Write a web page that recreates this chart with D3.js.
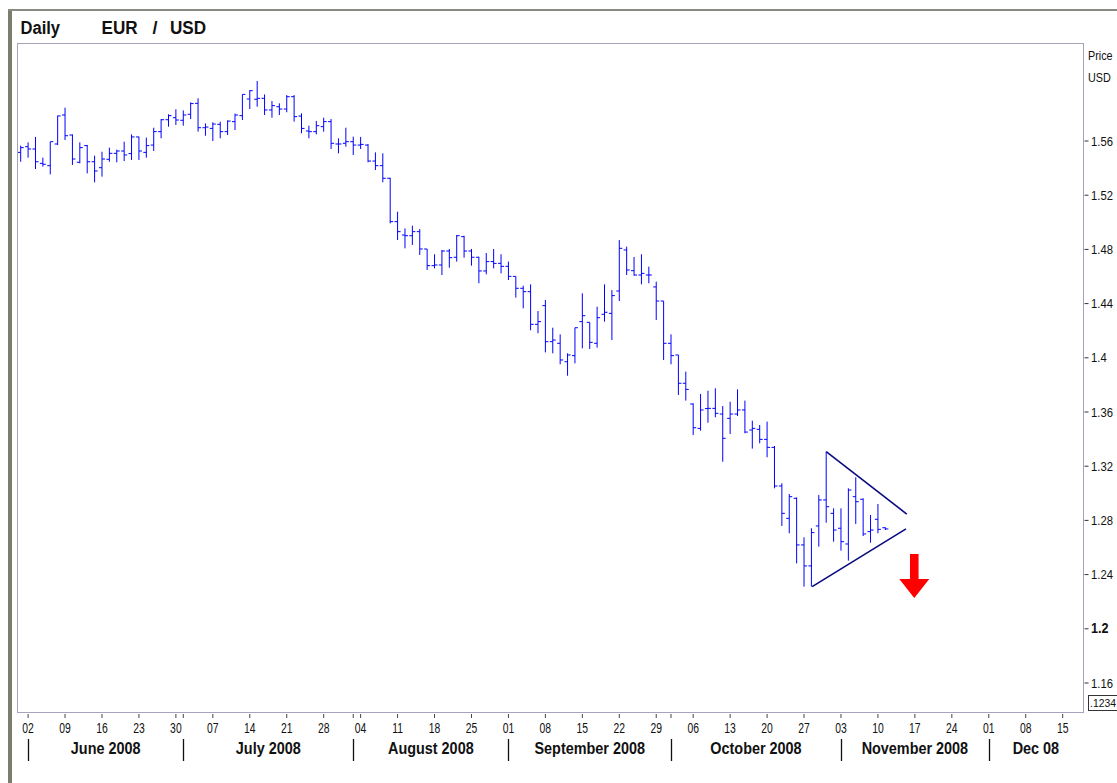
<!DOCTYPE html>
<html><head><meta charset="utf-8">
<script src="https://cdn.jsdelivr.net/npm/d3@7"></script>
<style>
body{margin:0;background:#fff}
svg{display:block;font-family:"Liberation Sans",Arial,sans-serif}
</style>
</head><body>
<svg id="c" width="1117" height="783"></svg>
<script>
// ---------------- DATA ----------------
const startDate = "2008-05-30"; // first bar (Friday), then every weekday
const opens = [
1.5516,1.5558,1.5541,1.5435,1.5418,1.5578,1.5792,1.5644,1.5443,1.5566,
1.5447,1.5403,1.5465,1.5509,1.5526,1.5507,1.5630,1.5516,1.5570,1.5669,
1.5757,1.5772,1.5753,1.5797,1.5878,1.5698,1.5693,1.5723,1.5669,1.5743,
1.5787,1.5910,1.5908,1.5915,1.5829,1.5853,1.5836,1.5927,1.5784,1.5674,
1.5669,1.5706,1.5743,1.5578,1.5583,1.5595,1.5570,1.5570,1.5452,1.5418,
1.5325,1.5005,1.4906,1.4901,1.4931,1.4803,1.4680,1.4685,1.4788,1.4742,
1.4894,1.4788,1.4742,1.4641,1.4710,1.4697,1.4675,1.4601,1.4513,1.4488,
1.4247,1.4385,1.4119,1.4107,1.3971,1.4016,1.4267,1.4262,1.4107,1.4321,
1.4328,1.4493,1.4796,1.4643,1.4611,1.4611,1.4523,1.4419,1.4107,1.4021,
1.3812,1.3659,1.3479,1.3625,1.3627,1.3585,1.3553,1.3585,1.3615,1.3467,
1.3472,1.3398,1.3339,1.3054,1.2815,1.2963,1.2619,1.2464,1.2759,1.2951,
1.2852,1.2742,1.2626,1.2975,1.2956,1.2717,1.2808,1.2746];
const highs = [
1.5566,1.5590,1.5630,1.5477,1.5595,1.5787,1.5846,1.5649,1.5590,1.5571,
1.5492,1.5521,1.5551,1.5536,1.5595,1.5649,1.5632,1.5625,1.5698,1.5762,
1.5797,1.5834,1.5826,1.5885,1.5915,1.5730,1.5738,1.5743,1.5752,1.5802,
1.5944,1.5976,1.6043,1.5944,1.5895,1.5878,1.5939,1.5939,1.5804,1.5713,
1.5748,1.5772,1.5762,1.5620,1.5698,1.5632,1.5630,1.5578,1.5516,1.5509,
1.5329,1.5078,1.4955,1.4975,1.4950,1.4803,1.4764,1.4796,1.4803,1.4906,
1.4901,1.4803,1.4746,1.4773,1.4803,1.4764,1.4710,1.4601,1.4532,1.4542,
1.4345,1.4427,1.4222,1.4173,1.4033,1.4222,1.4476,1.4262,1.4377,1.4542,
1.4500,1.4869,1.4820,1.4744,1.4764,1.4673,1.4562,1.4419,1.4173,1.4021,
1.3898,1.3664,1.3733,1.3757,1.3775,1.3644,1.3676,1.3767,1.3684,1.3536,
1.3504,1.3529,1.3349,1.3074,1.2995,1.2970,1.2675,1.2742,1.2988,1.3307,
1.2889,1.2889,1.3037,1.3118,1.2963,1.2840,1.2921,1.2749];
const lows = [
1.5447,1.5477,1.5393,1.5411,1.5354,1.5570,1.5607,1.5423,1.5435,1.5361,
1.5295,1.5337,1.5447,1.5443,1.5452,1.5460,1.5460,1.5477,1.5526,1.5620,
1.5706,1.5718,1.5713,1.5762,1.5669,1.5639,1.5600,1.5620,1.5644,1.5681,
1.5755,1.5836,1.5853,1.5792,1.5772,1.5792,1.5812,1.5743,1.5657,1.5620,
1.5649,1.5669,1.5541,1.5509,1.5558,1.5497,1.5541,1.5443,1.5386,1.5295,
1.4992,1.4869,1.4808,1.4833,1.4759,1.4648,1.4660,1.4611,1.4665,1.4710,
1.4739,1.4680,1.4550,1.4616,1.4660,1.4623,1.4574,1.4444,1.4365,1.4203,
1.4181,1.4040,1.4033,1.3952,1.3868,1.3959,1.4070,1.4065,1.4075,1.4267,
1.4131,1.4419,1.4611,1.4606,1.4542,1.4550,1.4279,1.3984,1.3952,1.3726,
1.3684,1.3430,1.3462,1.3521,1.3561,1.3233,1.3438,1.3570,1.3443,1.3330,
1.3369,1.3266,1.3037,1.2759,1.2705,1.2483,1.2311,1.2311,1.2606,1.2783,
1.2643,1.2577,1.2503,1.2774,1.2685,1.2636,1.2705,1.2729];
const closes = [
1.5551,1.5541,1.5447,1.5428,1.5595,1.5785,1.5639,1.5467,1.5551,1.5447,
1.5379,1.5467,1.5509,1.5526,1.5497,1.5630,1.5526,1.5566,1.5669,1.5757,
1.5787,1.5755,1.5792,1.5876,1.5698,1.5703,1.5725,1.5669,1.5747,1.5792,
1.5944,1.5971,1.5915,1.5829,1.5861,1.5836,1.5927,1.5780,1.5693,1.5669,
1.5713,1.5743,1.5583,1.5578,1.5595,1.5570,1.5575,1.5452,1.5418,1.5325,
1.5005,1.4931,1.4901,1.4931,1.4803,1.4680,1.4685,1.4788,1.4739,1.4901,
1.4788,1.4742,1.4641,1.4710,1.4697,1.4675,1.4601,1.4513,1.4488,1.4247,
1.4267,1.4119,1.4131,1.3984,1.4021,1.4222,1.4311,1.4114,1.4296,1.4336,
1.4459,1.4808,1.4648,1.4611,1.4623,1.4611,1.4419,1.4107,1.4016,1.3812,
1.3767,1.3484,1.3615,1.3627,1.3590,1.3406,1.3585,1.3615,1.3452,1.3479,
1.3398,1.3339,1.3054,1.2852,1.2975,1.2619,1.2464,1.2710,1.2951,1.2901,
1.2729,1.2643,1.3024,1.2938,1.2700,1.2729,1.2734,1.2737];
const priceTicks = [1.16,1.2,1.24,1.28,1.32,1.36,1.4,1.44,1.48,1.52,1.56];
const boldTick = 1.2;
const monthLabels = ["June 2008","July 2008","August 2008","September 2008","October 2008","November 2008","Dec 08"];
const titleParts = ["Daily","EUR","/","USD"];
const axisTitle = ["Price","USD"];
const lastPriceLabel = ".1234";
// triangle pattern (trading-day index, price)
const triUpper = [[109,1.3307],[119.9,1.2847]];
const triLower = [[107.1,1.2311],[119.8,1.2737]];
// breakdown arrow (index, prices)
const arrowDef = {i:120.92, top:1.2552, neck:1.2368, tip:1.2227, shaft:0.58, head:2.03};

// ---------------- LAYOUT ----------------
const W = 1117, H = 783;
const P = {l:18, t:44, r:1083, b:712};
const nAxisDays = 144;

function tradingDays(start, n){
  const out=[]; const d=new Date(start+"T00:00:00Z");
  while(out.length<n){ const wd=d.getUTCDay(); if(wd!==0&&wd!==6) out.push(new Date(d)); d.setUTCDate(d.getUTCDate()+1); }
  return out;
}
const days = tradingDays(startDate, nAxisDays);

const svg = d3.select("#c");
const x = d3.scaleLinear().domain([-0.365, 143.75]).range([P.l, P.r]);
const y = d3.scaleLinear().domain([1.1386, 1.63159]).range([P.b, P.t]);

function condense(sel, f){
  sel.each(function(){ const w=this.getComputedTextLength();
    d3.select(this).attr("textLength", (w*f).toFixed(2)).attr("lengthAdjust","spacingAndGlyphs"); });
}

svg.append("rect").attr("width",W).attr("height",H).attr("fill","#fff");

// outer frame
svg.append("rect").attr("x",8).attr("y",9).attr("width",4).attr("height",H-9).attr("fill","#7d7d6d");
svg.append("rect").attr("x",8).attr("y",9).attr("width",W-8).attr("height",2).attr("fill","#8a8a80");

// title
const titleX = [20.5, 101.5, 152.5, 170];
const titleF = [0.92, 0.95, 1, 0.95];
titleParts.forEach((t,k)=>{
  svg.append("text").attr("x",titleX[k]).attr("y",34).attr("font-size",18).attr("font-weight","bold")
    .attr("fill","#111").text(t).call(condense, titleF[k]);
});

// plot border
svg.append("rect").attr("x",P.l-0.5).attr("y",P.t-0.5).attr("width",P.r-P.l+1).attr("height",P.b-P.t+1)
  .attr("fill","none").attr("stroke","#a4a4bc").attr("stroke-width",1);

// y axis (right)
const yAxisG = svg.append("g");
yAxisG.selectAll("line").data(priceTicks).join("line")
  .attr("x1",P.r+1.5).attr("x2",P.r+5.5).attr("y1",d=>y(d)).attr("y2",d=>y(d))
  .attr("stroke","#333").attr("stroke-width",1);
yAxisG.selectAll("text").data(priceTicks).join("text")
  .attr("x",P.r+8).attr("y",d=>y(d)+4.5)
  .attr("font-size",d=>d===boldTick?14:12.5).attr("font-weight",d=>d===boldTick?"bold":"normal")
  .attr("fill","#111").text(d=>String(+d.toFixed(2)))
  .call(condense,0.9);
axisTitle.forEach((t,k)=>{
  svg.append("text").attr("x",P.r+5).attr("y",60+k*22).attr("font-size",12).attr("fill","#111").text(t).call(condense,0.9);
});
svg.append("rect").attr("x",P.r+5.5).attr("y",695.5).attr("width",40).attr("height",15)
  .attr("fill","#fff").attr("stroke","#333");
svg.append("text").attr("x",P.r+7).attr("y",707).attr("font-size",11).attr("fill","#111").text(lastPriceLabel)
  .attr("textLength",26).attr("lengthAdjust","spacingAndGlyphs");

// x axis
const dayIdx = d3.range(nAxisDays);
const mondays = dayIdx.filter(i=>days[i].getUTCDay()===1);
const monthStarts = dayIdx.filter(i=>i>0 && days[i].getUTCMonth()!==days[i-1].getUTCMonth());
const tickIdx = Array.from(new Set([...mondays, ...monthStarts])).sort((a,b)=>a-b);
svg.append("g").selectAll("line").data(tickIdx).join("line")
  .attr("x1",d=>x(d)).attr("x2",d=>x(d)).attr("y1",P.b+2).attr("y2",P.b+6)
  .attr("stroke","#444").attr("stroke-width",1);
svg.append("g").selectAll("text").data(mondays).join("text")
  .attr("x",d=>x(d)).attr("y",733).attr("text-anchor","middle").attr("font-size",14).attr("fill","#111")
  .text(d=>d3.utcFormat("%d")(days[d])).call(condense,0.74);

// month separators and labels
const seps = monthStarts.slice(0, monthLabels.length);
svg.append("g").selectAll("line").data(seps).join("line")
  .attr("x1",d=>Math.round(x(d))+0.5).attr("x2",d=>Math.round(x(d))+0.5).attr("y1",739).attr("y2",761)
  .attr("stroke","#111").attr("stroke-width",1.3);
const bounds = seps.map(d=>x(d)).concat([P.r]);
svg.append("g").selectAll("text").data(monthLabels).join("text")
  .attr("x",(d,k)=>(bounds[k]+bounds[k+1])/2).attr("y",754).attr("text-anchor","middle")
  .attr("font-size",16).attr("font-weight","bold").attr("fill","#111").text(d=>d)
  .call(condense,0.9);

// bars
svg.append("clipPath").attr("id","pc").append("rect")
  .attr("x",P.l).attr("y",P.t).attr("width",P.r-P.l).attr("height",P.b-P.t);
const bars = svg.append("g").attr("clip-path","url(#pc)").attr("stroke","#0000ff").attr("stroke-width",1);
const idx = d3.range(opens.length);
bars.selectAll("line.hl").data(idx).join("line").attr("class","hl")
  .attr("x1",i=>x(i)).attr("x2",i=>x(i)).attr("y1",i=>y(highs[i])).attr("y2",i=>y(lows[i]));
bars.selectAll("line.o").data(idx).join("line").attr("class","o")
  .attr("x1",i=>x(i)-3).attr("x2",i=>x(i)).attr("y1",i=>y(opens[i])).attr("y2",i=>y(opens[i]));
bars.selectAll("line.c").data(idx).join("line").attr("class","c")
  .attr("x1",i=>x(i)).attr("x2",i=>x(i)+3).attr("y1",i=>y(closes[i])).attr("y2",i=>y(closes[i]));

// triangle
const ln = d3.line().x(d=>x(d[0])).y(d=>y(d[1]));
[triUpper, triLower].forEach(seg=>{
  svg.append("path").attr("d",ln(seg)).attr("fill","none").attr("stroke","#0a0a80").attr("stroke-width",1.6);
});

// arrow
const a = arrowDef;
const arrowPts = [[a.i-a.shaft,a.top],[a.i+a.shaft,a.top],[a.i+a.shaft,a.neck],[a.i+a.head,a.neck],
  [a.i,a.tip],[a.i-a.head,a.neck],[a.i-a.shaft,a.neck]];
svg.append("path").attr("d", ln(arrowPts)+"Z").attr("fill","#ff0000");
</script>
</body></html>
